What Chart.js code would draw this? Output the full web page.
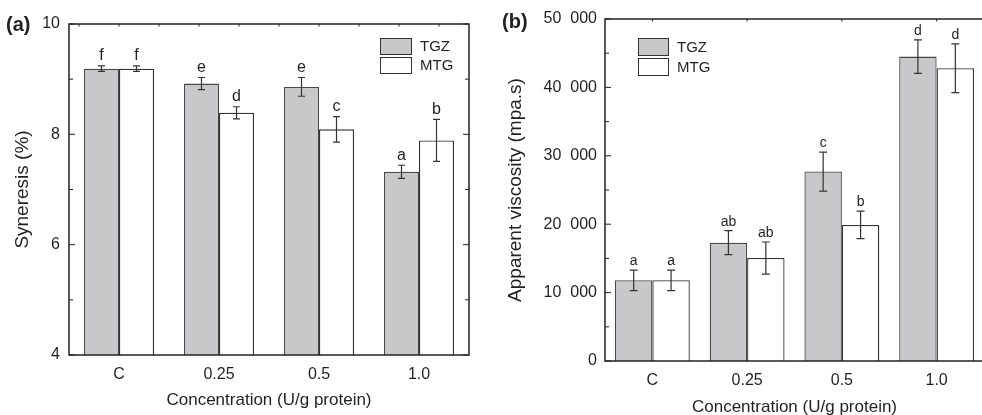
<!DOCTYPE html>
<html>
<head>
<meta charset="utf-8">
<script src="https://cdn.jsdelivr.net/npm/chart.js@4.4.1/dist/chart.umd.min.js"></script>
<style>
  html, body { margin: 0; padding: 0; background: #fff; overflow: hidden; width: 982px; height: 415px; }
  #panelA { position: absolute; left: 0; top: 0; }
  #panelB { position: absolute; left: 490px; top: 0; }
</style>
</head>
<body>
<canvas id="panelA" width="490" height="415"></canvas>
<canvas id="panelB" width="500" height="420"></canvas>
<script>
const categories = ['C', '0.25', '0.5', '1.0'];
const seriesNames = ['TGZ', 'MTG'];

// (a) syneresis, %
const synTGZ = [9.19, 8.92, 8.86, 7.32];
const synTGZErr = [0.05, 0.11, 0.17, 0.12];
const synMTG = [9.19, 8.39, 8.09, 7.89];
const synMTGErr = [0.05, 0.11, 0.23, 0.38];
const synTGZLetters = ['f', 'e', 'e', 'a'];
const synMTGLetters = ['f', 'd', 'c', 'b'];

// (b) apparent viscosity, mpa.s
const visTGZ = [11800, 17300, 27700, 44500];
const visTGZErr = [1500, 1750, 2850, 2450];
const visMTG = [11800, 15050, 19900, 42800];
const visMTGErr = [1500, 2350, 2000, 3550];
const visTGZLetters = ['a', 'ab', 'c', 'd'];
const visMTGLetters = ['a', 'ab', 'b', 'd'];

const FONT = '"Liberation Sans", Arial, sans-serif';
const INK = '#231f20';
const GREY = '#c8c8ca';

function spaced(v) {
    // 50000 -> "50 000"
    return String(v).replace(/\B(?=(\d{3})+(?!\d))/g, '\u2007');
}

function buildPanel(id, p) {
    const extras = {
        id: 'extras',
        afterDatasetsDraw(chart) {
            const ctx = chart.ctx;
            const x = chart.scales.x;
            const y = chart.scales.y;
            const a = chart.chartArea;
            ctx.save();

            // error bars and letters
            chart.data.datasets.forEach((ds, di) => {
                chart.getDatasetMeta(di).data.forEach((bar, i) => {
                    const v = ds.data[i];
                    const e = p.errors[di][i];
                    const yHi = y.getPixelForValue(v + e);
                    const yLo = y.getPixelForValue(v - e);
                    ctx.strokeStyle = '#333';
                    ctx.lineWidth = 1.2;
                    ctx.beginPath();
                    ctx.moveTo(bar.x, yHi); ctx.lineTo(bar.x, yLo);
                    ctx.moveTo(bar.x - p.cap, yHi); ctx.lineTo(bar.x + p.cap, yHi);
                    ctx.moveTo(bar.x - p.cap, yLo); ctx.lineTo(bar.x + p.cap, yLo);
                    ctx.stroke();
                    ctx.fillStyle = INK;
                    ctx.font = p.letterSize + 'px ' + FONT;
                    ctx.textAlign = 'center';
                    ctx.textBaseline = 'bottom';
                    ctx.fillText(p.letters[di][i], bar.x, yHi - 2);
                });
            });

            // frame
            ctx.strokeStyle = '#222';
            ctx.lineWidth = 1.5;
            ctx.strokeRect(a.left, a.top, a.right - a.left, a.bottom - a.top);

            // inner ticks on y
            ctx.lineWidth = 1;
            ctx.beginPath();
            for (let v = y.min; v <= y.max + 1e-9; v += p.minorStep) {
                const py = y.getPixelForValue(v);
                const major = Math.abs(v / p.majorStep - Math.round(v / p.majorStep)) < 1e-6;
                const len = major ? 6 : 4;
                ctx.moveTo(a.left, py); ctx.lineTo(a.left + len, py);
                if (p.rightTicks) {
                    ctx.moveTo(a.right, py); ctx.lineTo(a.right - len, py);
                }
            }
            // small ticks on the top edge
            p.topTicks.forEach(t => {
                const px = x.getPixelForValue(t);
                ctx.moveTo(px, a.top); ctx.lineTo(px, a.top + 2.5);
            });
            ctx.stroke();

            // legend
            const lg = p.legend;
            chart.data.datasets.forEach((ds, di) => {
                const top = lg.y + di * lg.step;
                ctx.fillStyle = ds.backgroundColor;
                ctx.fillRect(lg.x, top, lg.w, lg.h);
                ctx.strokeStyle = '#333';
                ctx.lineWidth = 1;
                ctx.strokeRect(lg.x + 0.5, top + 0.5, lg.w, lg.h);
                ctx.fillStyle = INK;
                ctx.font = lg.size + 'px ' + FONT;
                ctx.textAlign = 'left';
                ctx.textBaseline = 'middle';
                ctx.fillText(ds.label, lg.x + lg.w + 9, top + lg.h / 2 + 1);
            });

            // panel tag
            ctx.font = 'bold 20px ' + FONT;
            ctx.textAlign = 'left';
            ctx.textBaseline = 'middle';
            ctx.fillStyle = INK;
            ctx.fillText(p.tag, p.tagX, p.tagY);
            ctx.restore();
        }
    };

    return new Chart(document.getElementById(id), {
        type: 'bar',
        data: {
            labels: categories,
            datasets: [
                { label: seriesNames[0], data: p.tgz, backgroundColor: GREY, borderColor: '#474747',
                  borderWidth: 1.3, categoryPercentage: p.catPct, barPercentage: 1 },
                { label: seriesNames[1], data: p.mtg, backgroundColor: '#ffffff', borderColor: '#333',
                  borderWidth: 1.3, categoryPercentage: p.catPct, barPercentage: 1 }
            ]
        },
        options: {
            responsive: false,
            animation: false,
            devicePixelRatio: 1,
            layout: { padding: p.padding },
            plugins: { legend: { display: false }, tooltip: { enabled: false } },
            scales: {
                x: {
                    grid: { display: false, drawTicks: false },
                    border: { display: false },
                    ticks: { color: INK, font: { family: FONT, size: 16 }, padding: 10 },
                    title: { display: true, text: 'Concentration (U/g protein)', color: INK,
                             font: { family: FONT, size: 17 }, padding: { top: 0, bottom: p.xTitlePad } },
                    afterFit(s) { s.height = p.xHeight; }
                },
                y: {
                    min: p.min, max: p.max,
                    grid: { display: false, drawTicks: false },
                    border: { display: false },
                    ticks: { stepSize: p.majorStep, color: INK, font: { family: FONT, size: 16 },
                             padding: p.yTickPad, callback: p.tickFmt },
                    title: { display: true, text: p.yTitle, color: INK,
                             font: { family: FONT, size: 19 }, padding: { top: p.yTitlePad, bottom: 0 } },
                    afterFit(s) { s.width = p.yWidth; }
                }
            }
        },
        plugins: [extras]
    });
}

buildPanel('panelA', {
    tgz: synTGZ, mtg: synMTG,
    errors: [synTGZErr, synMTGErr],
    letters: [synTGZLetters, synMTGLetters],
    min: 4, max: 10, majorStep: 2, minorStep: 1,
    tickFmt: v => v,
    yTitle: 'Syneresis (%)',
    padding: { left: 0, top: 24, right: 21, bottom: 0 },
    yWidth: 69, xHeight: 60, yTickPad: 9, yTitlePad: 11, xTitlePad: 4,
    catPct: 0.7, cap: 3.5, letterSize: 16, rightTicks: true,
    topTicks: [-0.4, 0, 0.4, 0.8, 1.2, 1.6, 2, 2.4, 2.8, 3.2],
    legend: { x: 380, y: 38, w: 31, h: 16, step: 19, size: 15 },
    tag: '(a)', tagX: 6, tagY: 25
});

buildPanel('panelB', {
    tgz: visTGZ, mtg: visMTG,
    errors: [visTGZErr, visMTGErr],
    letters: [visTGZLetters, visMTGLetters],
    min: 0, max: 50000, majorStep: 10000, minorStep: 5000,
    tickFmt: v => spaced(v),
    yTitle: 'Apparent viscosity (mpa.s)',
    padding: { left: 0, top: 19, right: 6, bottom: 0 },
    yWidth: 115, xHeight: 59, yTickPad: 8, yTitlePad: 14, xTitlePad: 2,
    catPct: 0.79, cap: 4, letterSize: 14, rightTicks: false,
    topTicks: [0, 1, 2, 3],
    legend: { x: 148, y: 38, w: 30, h: 17, step: 20, size: 15 },
    tag: '(b)', tagX: 12, tagY: 22
});
</script>
</body>
</html>
